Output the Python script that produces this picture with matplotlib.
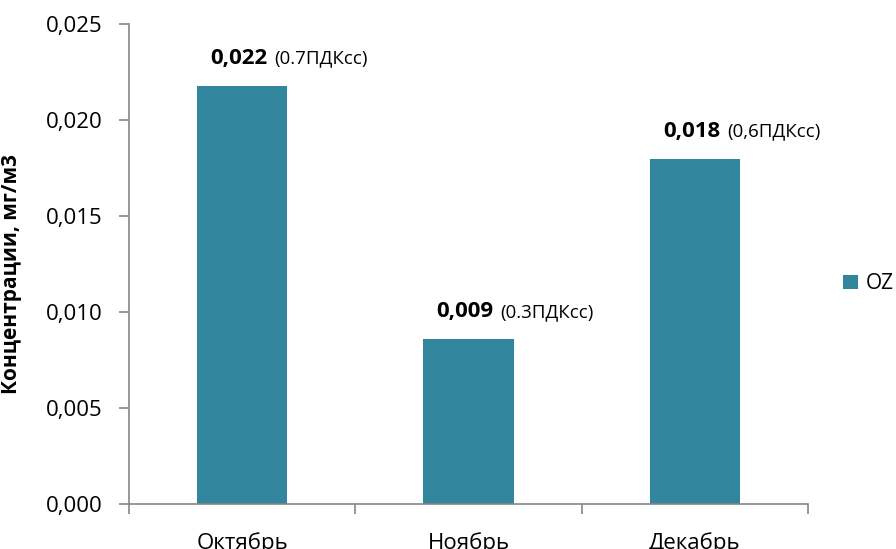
import matplotlib
matplotlib.use("Agg")
import matplotlib.pyplot as plt
from matplotlib.ticker import FuncFormatter, MultipleLocator
from matplotlib.patches import Patch

plt.rcParams['font.family'] = ['Open Sans', 'DejaVu Sans']

months = ["Октябрь", "Ноябрь", "Декабрь"]
oz_values = [0.0218, 0.0086, 0.0180]
pdk_notes = ["(0.7ПДКсс)", "(0.3ПДКсс)", "(0,6ПДКсс)"]
series_name = "OZ"
y_label = "Концентрации, мг/м3"

bar_color = "#31859C"
axis_color = "#868686"

fig = plt.figure(figsize=(8.96, 5.49), dpi=100)
ax = fig.add_axes([0.144, 0.082, 0.758, 0.874])

x = list(range(len(months)))
bars = ax.bar(x, oz_values, width=0.4, color=bar_color, label=series_name)

ax.set_xlim(-0.5, len(months) - 0.5)
ax.set_ylim(0, 0.025)
ax.yaxis.set_major_locator(MultipleLocator(0.005))
ax.yaxis.set_major_formatter(FuncFormatter(lambda v, p: f"{v:.3f}".replace(".", ",")))

ax.set_xticks([i - 0.5 for i in range(len(months) + 1)], minor=False)
ax.set_xticklabels([])
ax.set_xticks(x, minor=True)
ax.set_xticklabels(months, minor=True)
ax.tick_params(axis='x', which='major', length=7, width=1.2, color=axis_color, direction='out')
ax.tick_params(axis='x', which='minor', length=0, pad=20, labelsize=16)
ax.tick_params(axis='y', length=7, width=1.2, color=axis_color, direction='out', pad=12, labelsize=16)

for side in ("top", "right"):
    ax.spines[side].set_visible(False)
for side in ("left", "bottom"):
    ax.spines[side].set_color(axis_color)
    ax.spines[side].set_linewidth(1.2)

ax.set_ylabel(y_label, fontsize=15, fontweight='bold')
ax.yaxis.set_label_coords(-0.158, 0.48)

# value labels: bold value followed by the ПДК note
for xi, v, note in zip(x, oz_values, pdk_notes):
    t = ax.annotate(f"{v:.3f}".replace(".", ","), xy=(xi, v), xytext=(-32, 27),
                    textcoords='offset pixels', ha='left', va='center',
                    fontsize=16, fontweight='bold')
    ax.annotate(note, xy=(1, 0.5), xycoords=t, xytext=(7, 0),
                textcoords='offset pixels', ha='left', va='center', fontsize=13.5)

handles = [Patch(facecolor=bar_color, label=series_name)]
fig.legend(handles=handles, loc='center left', bbox_to_anchor=(0.932, 0.483),
           frameon=False, fontsize=15, handlelength=0.7, handleheight=0.7,
           handletextpad=0.35, borderaxespad=0)

fig.savefig("out.png", dpi=100)
